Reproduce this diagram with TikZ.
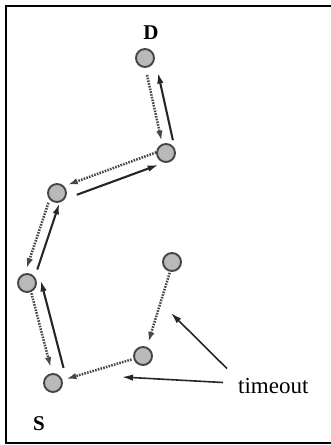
\documentclass[tikz,border=0pt]{standalone}
\usepackage{fontspec}
\setmainfont{Liberation Serif}
\usetikzlibrary{arrows.meta,calc}
\definecolor{nodegray}{RGB}{185,185,185}
\definecolor{nodeedge}{RGB}{70,70,70}
\newcommand\offarrow[6]{\draw[#1,shorten <=#5pt,shorten >=#6pt] ($(#2)!#4pt!-90:(#3)$) -- ($(#3)!#4pt!90:(#2)$);}
\begin{document}
\begin{tikzpicture}[x=1pt,y=-1pt,
  router/.style={circle,minimum size=18pt,inner sep=0pt,fill=nodegray,draw=nodeedge,line width=1.9pt},
  solidarrow/.style={line width=2.1pt,draw=black!85,-{Latex[length=11pt,width=6.5pt]}},
  dotarrow/.style={line width=2.5pt,draw=black!72,dash pattern=on 1.6pt off 1.2pt,-{Latex[length=10pt,width=6.5pt]}},
  pointer/.style={line width=1.6pt,draw=black!85,-{Latex[length=11pt,width=6.5pt]}},
  lbl/.style={inner sep=0pt,font=\fontsize{21}{24}\selectfont\bfseries}]
\useasboundingbox (0,0) rectangle (331,445);
\draw[line width=2pt] (6,5.5) rectangle (340,443);
\node[router] (D) at (145,58) {};
\node[router] (A) at (166,153) {};
\node[router] (B) at (57,193) {};
\node[router] (C) at (27,283) {};
\node[router] (S) at (53,383) {};
\node[router] (E) at (172,262) {};
\node[router] (F) at (143,356) {};
\node[lbl] (Dl) at (151,33) {D};
\node[lbl] (Sl) at (39,424) {S};
\node[anchor=base west,inner sep=0pt,font=\fontsize{23}{26}\selectfont] (T) at (238,393) {timeout};
\offarrow{dotarrow}{D}{A}{1.7}{17}{13}
\offarrow{solidarrow}{A}{D}{9.5}{11}{17}
\offarrow{dotarrow}{A}{B}{4}{9}{13}
\offarrow{solidarrow}{B}{A}{8.5}{18}{11}
\offarrow{dotarrow}{B}{C}{5}{12}{14}
\offarrow{solidarrow}{C}{B}{5.5}{16}{9}
\offarrow{dotarrow}{C}{S}{-1.7}{11}{16}
\offarrow{solidarrow}{S}{C}{14}{12}{1}
\offarrow{dotarrow}{E}{F}{-1}{11}{15}
\offarrow{dotarrow}{F}{S}{0}{12}{14}
\coordinate (t1) at (171,313);
\coordinate (t2) at (122,377);
\draw[pointer] ($(T.north west)+(-11,-9)$) -- (t1);
\draw[pointer] ($(T.west)+(-15,-3)$) -- (t2);
\end{tikzpicture}
\end{document}
